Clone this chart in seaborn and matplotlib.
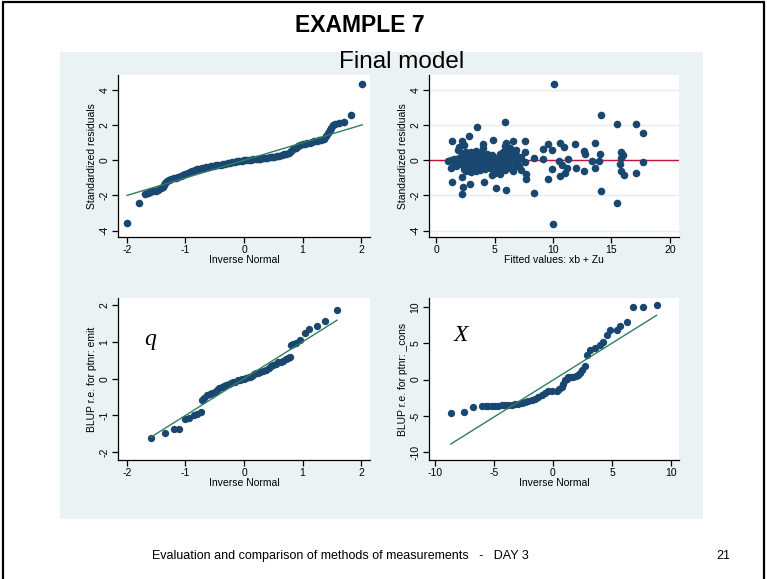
import numpy as np
import pandas as pd
import matplotlib
matplotlib.use("Agg")
import matplotlib.pyplot as plt
import seaborn as sns
from matplotlib.patches import Rectangle
from matplotlib.lines import Line2D

sns.set_style("white")
plt.rcParams['font.family'] = ['Liberation Sans', 'DejaVu Sans']
plt.rcParams['axes.unicode_minus'] = False
plt.rcParams['text.color'] = 'black'
plt.rcParams['axes.labelcolor'] = 'black'

NAVY = '#1a476f'
REFLINE = '#2f7d62'
REDLINE = '#c4103a'
BG = '#eaf2f3'

# top-left: qnorm of standardized residuals (inverse normal, residual)
tl_x = [-2.00, -1.80, -1.69, -1.64, -1.60, -1.55, -1.50, -1.46, -1.42, -1.39, -1.37, -1.35,
        -1.32, -1.28, -1.24, -1.20, -1.16, -1.12, -1.08, -1.04, -1.00, -0.96, -0.92, -0.88,
        -0.84, -0.80, -0.76, -0.72, -0.68, -0.64, -0.60, -0.56, -0.52, -0.48, -0.44, -0.40,
        -0.36, -0.32, -0.28, -0.24, -0.20, -0.16, -0.12, -0.08, -0.04, 0.00, 0.04, 0.08,
        0.12, 0.16, 0.20, 0.24, 0.28, 0.32, 0.36, 0.40, 0.44, 0.48, 0.52, 0.56, 0.60, 0.64,
        0.68, 0.72, 0.76, 0.80, 0.84, 0.88, 0.92, 0.96, 1.00, 1.04, 1.08, 1.12, 1.16, 1.20,
        1.24, 1.28, 1.32, 1.36, 1.40, 1.43, 1.46, 1.49, 1.52, 1.56, 1.62, 1.70, 1.83, 2.02]
tl_y = [-3.58, -2.40, -1.92, -1.85, -1.80, -1.76, -1.73, -1.68, -1.60, -1.50, -1.40, -1.28,
        -1.20, -1.12, -1.06, -1.03, -1.00, -0.95, -0.89, -0.84, -0.78, -0.72, -0.66, -0.60,
        -0.56, -0.52, -0.49, -0.46, -0.43, -0.40, -0.37, -0.34, -0.31, -0.28, -0.26, -0.24,
        -0.22, -0.19, -0.16, -0.13, -0.10, -0.08, -0.06, -0.04, -0.02, 0.00, 0.02, 0.03,
        0.04, 0.06, 0.07, 0.09, 0.10, 0.12, 0.13, 0.15, 0.17, 0.19, 0.21, 0.24, 0.27, 0.30,
        0.34, 0.38, 0.44, 0.52, 0.62, 0.72, 0.80, 0.86, 0.91, 0.95, 0.98, 1.01, 1.04, 1.07,
        1.10, 1.13, 1.16, 1.22, 1.40, 1.55, 1.70, 1.85, 1.98, 2.08, 2.12, 2.18, 2.58, 4.35]

# top-right: residuals vs fitted values
tr_fit = [1.0, 1.3, 1.3, 1.5, 1.5, 1.7, 1.7, 1.9, 1.9, 2.0, 2.0, 2.0, 2.2, 2.2, 2.2, 2.2,
          2.4, 2.4, 2.4, 2.4, 2.4, 2.6, 2.6, 2.6, 2.6, 2.6, 2.8, 2.8, 2.8, 2.8, 2.8,
          3.0, 3.0, 3.0, 3.0, 3.0, 3.0, 3.2, 3.2, 3.2, 3.2, 3.2, 3.4, 3.4, 3.4, 3.4, 3.4, 3.4,
          3.6, 3.6, 3.6, 3.6, 3.8, 3.8, 3.8, 3.8, 3.8, 4.0, 4.0, 4.0, 4.0, 4.0,
          4.2, 4.2, 4.2, 4.2, 4.4, 4.4, 4.4, 4.4, 4.6, 4.6, 4.6, 4.8, 4.8, 4.8, 4.8,
          5.0, 5.0, 5.0, 5.2, 5.2, 5.2, 5.5, 5.5, 5.5, 5.7, 5.7, 5.7, 5.9, 5.9, 5.9, 5.9,
          6.1, 6.1, 6.1, 6.3, 6.3, 6.3, 6.5, 6.5, 6.5, 6.8, 6.8, 6.8, 7.1, 7.1, 7.3, 7.3, 7.6,
          10.06, 10.03, 14.07, 15.47, 17.12, 17.66, 17.66, 17.12, 15.47, 14.10, 8.38, 5.98,
          5.16, 4.13, 2.19, 2.34, 1.34, 2.90, 3.48, 2.85, 1.34, 2.19, 4.90, 5.90, 4.05, 5.98,
          6.60, 7.60, 7.60, 9.60, 9.17, 9.90, 10.60, 10.90, 11.88, 13.60, 12.65, 12.70, 13.30,
          13.60, 14.00, 13.90, 15.78, 16.00, 15.78, 15.70, 15.80, 16.10, 9.90, 9.60, 10.60,
          11.00, 11.20, 11.30, 10.50, 10.80, 12.00, 12.65, 9.17, 8.40, 7.66, 7.66, 7.00, 6.60]
tr_res = [-0.05, -0.45, 0.00, 0.05, -0.15, 0.10, -0.30, 0.00, 0.60, 0.75, -0.20, 0.15,
          -0.95, 0.40, -0.05, 0.20, -0.50, 0.00, 0.30, -0.25, 0.85, -0.60, -0.30, 0.05, 0.25,
          0.45, -0.55, -0.20, 0.10, 0.35, -0.05, -0.65, -0.40, -0.15, 0.05, 0.25, 0.50,
          -0.50, -0.25, 0.00, 0.20, 0.40, -0.60, -0.35, -0.10, 0.10, 0.30, 0.55,
          -0.45, -0.20, 0.05, 0.25, -0.55, -0.30, -0.05, 0.15, 0.40, -0.40, -0.15, 0.05, 0.30,
          0.70, -0.50, -0.25, 0.00, 0.20, -0.30, -0.05, 0.15, 0.35, -0.45, -0.15, 0.10,
          -0.20, 0.05, 0.30, -0.85, -0.70, -0.10, 0.15, -0.55, 0.00, -0.30, -0.40, 0.35, -0.75,
          -0.20, 0.45, 0.10, -0.55, 0.30, 0.05, 0.80, -0.30, 0.55, -0.05, 0.70, 0.20, -0.10,
          0.45, -0.50, 0.10, 0.30, -0.20, 0.60, 0.05, -0.35, 0.20, -0.55, -0.10,
          4.34, -3.60, 2.59, 2.06, 2.06, 1.58, -0.08, -0.70, -2.42, -1.75, -1.85, -1.69,
          -1.60, -1.22, -1.94, -1.52, -1.22, -1.33, 1.87, 1.39, 1.10, 1.07, 1.16, 2.19, 0.95,
          0.97, 1.07, 1.07, 0.50, 0.95, 0.63, 0.57, 1.00, 0.76, 0.91, 1.00, 0.53, 0.34, -0.04,
          -0.42, 0.34, -0.04, 0.50, 0.30, 0.11, -0.23, -0.61, -0.84, -0.51, -1.07, -0.90,
          -0.70, -0.42, 0.06, -0.04, -0.27, -0.46, -0.61, 0.06, 0.15, -0.80, -1.07, -0.32, -0.61]

# bottom-left: qnorm of BLUP r.e. for ptnr: emit
bl_x = [-1.59, -1.35, -1.19, -1.11, -1.00, -0.94, -0.85, -0.80, -0.74, -0.71, -0.68, -0.63,
        -0.58, -0.54, -0.50, -0.46, -0.42, -0.38, -0.34, -0.30, -0.26, -0.23, -0.19, -0.15,
        -0.11, -0.07, -0.03, 0.00, 0.04, 0.08, 0.11, 0.14, 0.17, 0.20, 0.24, 0.28, 0.32, 0.37,
        0.42, 0.46, 0.50, 0.54, 0.58, 0.63, 0.67, 0.71, 0.75, 0.79, 0.80, 0.84, 0.88, 0.96,
        1.04, 1.11, 1.24, 1.39, 1.59]
bl_y = [-1.61, -1.49, -1.38, -1.38, -1.09, -1.06, -0.99, -0.95, -0.91, -0.59, -0.52, -0.45,
        -0.42, -0.39, -0.35, -0.30, -0.26, -0.23, -0.21, -0.18, -0.15, -0.12, -0.10, -0.08,
        -0.05, -0.03, -0.01, 0.00, 0.02, 0.04, 0.05, 0.08, 0.12, 0.14, 0.16, 0.17, 0.20, 0.24,
        0.29, 0.33, 0.37, 0.41, 0.44, 0.46, 0.48, 0.52, 0.55, 0.59, 0.90, 0.93, 0.97, 1.04,
        1.24, 1.34, 1.42, 1.57, 1.86]

# bottom-right: qnorm of BLUP r.e. for ptnr: _cons
br_x = [-8.67, -7.51, -6.75, -6.05, -5.70, -5.48, -5.20, -4.92, -4.62, -4.35, -4.05, -3.79,
        -3.50, -3.22, -2.95, -2.66, -2.38, -2.09, -1.80, -1.53, -1.25, -0.96, -0.68, -0.40,
        -0.05, 0.31, 0.55, 0.73, 0.88, 1.00, 1.15, 1.30, 1.50, 1.72, 1.95, 2.15, 2.30, 2.43,
        2.71, 2.85, 3.14, 3.56, 3.98, 4.27, 4.55, 4.83, 5.40, 5.68, 6.24, 6.81, 7.66, 8.79]
br_y = [-4.62, -4.49, -3.84, -3.66, -3.66, -3.66, -3.66, -3.66, -3.60, -3.52, -3.52, -3.52,
        -3.48, -3.43, -3.35, -3.20, -3.08, -2.93, -2.78, -2.61, -2.40, -2.15, -1.90, -1.60,
        -1.60, -1.60, -1.30, -1.00, -0.60, -0.10, 0.10, 0.37, 0.37, 0.37, 0.50, 0.60, 0.90,
        1.37, 1.83, 3.34, 4.03, 4.39, 4.71, 5.17, 6.09, 6.77, 6.77, 7.37, 7.92, 9.98, 9.98,
        10.30]

W, H = 767, 579
fig = plt.figure(figsize=(W / 100, H / 100), dpi=100)

# slide frame
for xs, ys in [([3 / W, 3 / W], [0, 1 - 2 / H]), ([3 / W, 764 / W], [1 - 2 / H, 1 - 2 / H]),
               ([764 / W, 764 / W], [0, 1 - 2 / H])]:
    fig.add_artist(Line2D(xs, ys, color='black', lw=1.6, transform=fig.transFigure))

# graph region background
fig.add_artist(Rectangle((60 / W, 1 - 519 / H), 643 / W, 467 / H, transform=fig.transFigure,
                         facecolor=BG, edgecolor='none', zorder=0))

fig.text(360 / W, 1 - 25 / H, 'EXAMPLE 7', ha='center', va='center', fontsize=16.5,
         fontweight='bold')
fig.text(402 / W, 1 - 62 / H, 'Final model', ha='center', va='center', fontsize=17.5)
fig.text(340 / W, 1 - 556 / H, 'Evaluation and comparison of methods of measurements   -   DAY 3',
         ha='center', va='center', fontsize=9)
fig.text(723 / W, 1 - 556 / H, '21', ha='center', va='center', fontsize=9)


def make_ax(x0, y0, x1, y1):
    ax = fig.add_axes([x0 / W, 1 - y1 / H, (x1 - x0) / W, (y1 - y0) / H])
    ax.set_facecolor('white')
    for s in ['top', 'right']:
        ax.spines[s].set_visible(False)
    for s in ['left', 'bottom']:
        ax.spines[s].set_color('black')
        ax.spines[s].set_linewidth(0.9)
    ax.tick_params(axis='both', direction='out', length=4, width=0.9, labelsize=7.5, pad=2,
                   left=True, bottom=True, colors='black')
    return ax


def finish(ax, xt, yt, xlab, ylab):
    ax.set_xticks(xt)
    ax.set_yticks(yt)
    plt.setp(ax.get_yticklabels(), rotation=90, va='center')
    ax.set_xlabel(xlab, fontsize=7.5, labelpad=0)
    ax.set_ylabel(ylab, fontsize=7.5, labelpad=2)


# top-left
ax1 = make_ax(118, 75, 370, 237)
sns.scatterplot(x=tl_x, y=tl_y, ax=ax1, color=NAVY, s=30, linewidth=0, zorder=3)
ends = [min(tl_x), max(tl_x)]
sns.lineplot(x=ends, y=ends, ax=ax1, color=REFLINE, lw=1, zorder=4)
ax1.set_xlim(-2.15, 2.15)
ax1.set_ylim(-4.36, 4.85)
finish(ax1, [-2, -1, 0, 1, 2], [-4, -2, 0, 2, 4], 'Inverse Normal', 'Standardized residuals')

# top-right
ax2 = make_ax(429, 75, 679, 237)
ax2.yaxis.grid(True, color='#e4edef', lw=1)
ax2.set_axisbelow(True)
ax2.axhline(0, color=REDLINE, lw=1, zorder=2)
sns.scatterplot(x=tr_fit, y=tr_res, ax=ax2, color=NAVY, s=30, linewidth=0, zorder=3)
ax2.set_xlim(-0.6, 20.77)
ax2.set_ylim(-4.36, 4.85)
finish(ax2, [0, 5, 10, 15, 20], [-4, -2, 0, 2, 4], 'Fitted values: xb + Zu',
       'Standardized residuals')

# bottom-left
ax3 = make_ax(118, 298, 370, 460)
sns.scatterplot(x=bl_x, y=bl_y, ax=ax3, color=NAVY, s=28, linewidth=0, zorder=3)
ends = [min(bl_x), max(bl_x)]
sns.lineplot(x=ends, y=ends, ax=ax3, color=REFLINE, lw=1, zorder=4)
ax3.set_xlim(-2.15, 2.15)
ax3.set_ylim(-2.21, 2.19)
finish(ax3, [-2, -1, 0, 1, 2], [-2, -1, 0, 1, 2], 'Inverse Normal', 'BLUP r.e. for ptnr: emit')
ax3.text(-1.6, 1.05, 'q', fontsize=17, style='italic', family='Liberation Serif',
         ha='center', va='center')

# bottom-right
ax4 = make_ax(429, 298, 679, 460)
sns.scatterplot(x=br_x, y=br_y, ax=ax4, color=NAVY, s=28, linewidth=0, zorder=3)
ends = [min(br_x), max(br_x)]
sns.lineplot(x=ends, y=[-8.88, 8.83], ax=ax4, color=REFLINE, lw=1, zorder=4)
ax4.set_xlim(-10.5, 10.68)
ax4.set_ylim(-11.06, 11.2)
finish(ax4, [-10, -5, 0, 5, 10], [-10, -5, 0, 5, 10], 'Inverse Normal',
       'BLUP r.e. for ptnr: _cons')
ax4.text(-7.8, 6.1, 'X', fontsize=17, style='italic', family='Liberation Serif',
         ha='center', va='center')

fig.savefig('out.png', dpi=100)
